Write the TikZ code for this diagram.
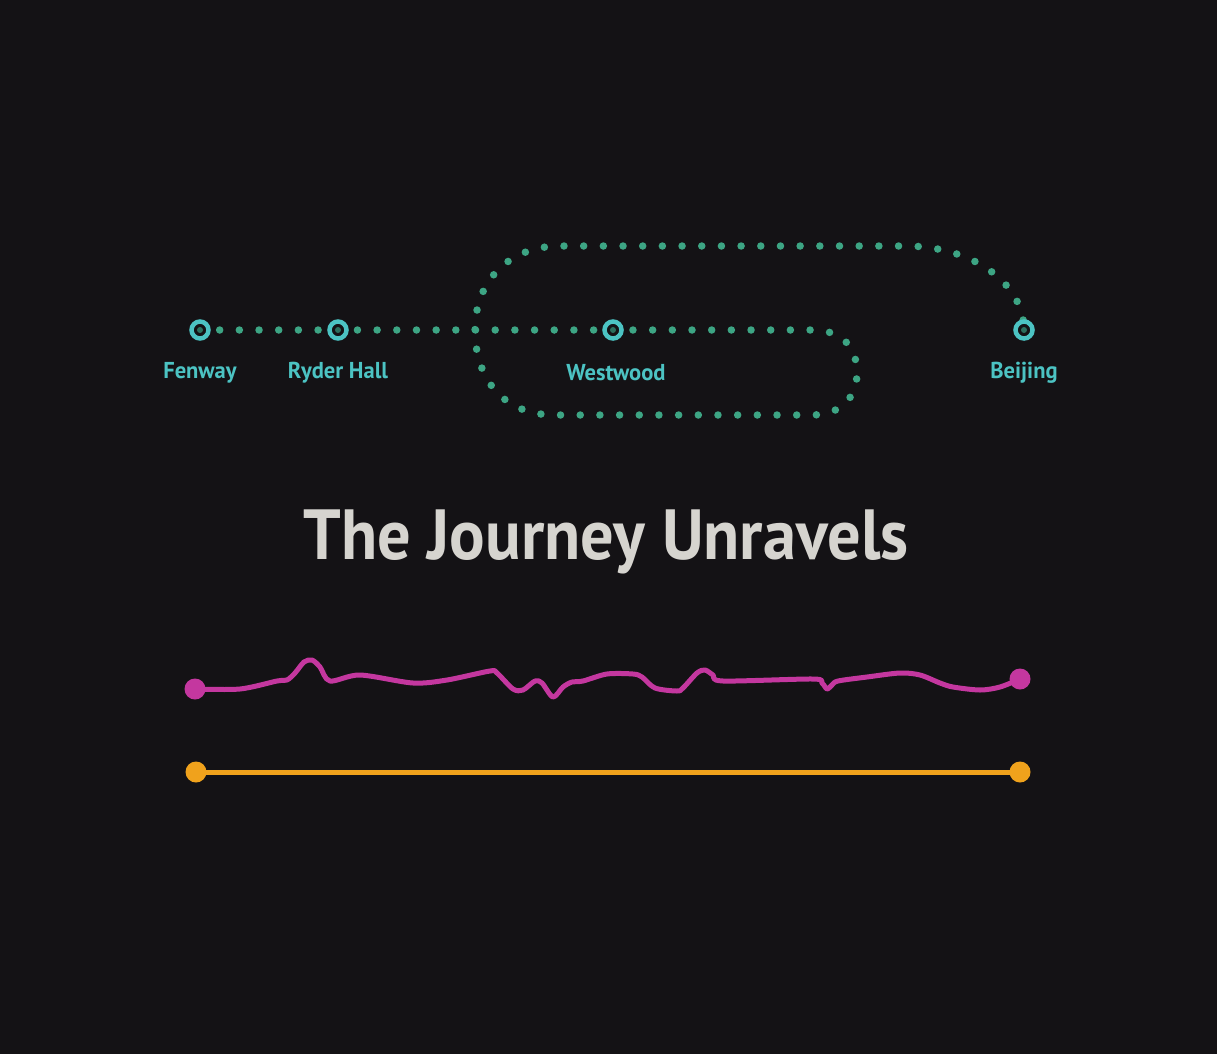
\documentclass[tikz,border=0pt]{standalone}
\usepackage{fontspec}
\setmainfont{PT Sans}
\definecolor{bg}{HTML}{141215}
\definecolor{dotgreen}{HTML}{3DA584}
\definecolor{teal}{HTML}{4CC3C3}
\definecolor{inner}{HTML}{2B6F5E}
\definecolor{titlegrey}{HTML}{D6D4CF}
\definecolor{mag}{HTML}{C4379F}
\definecolor{orng}{HTML}{F0A21C}
\tikzset{
  dotted route/.style={draw=dotgreen, line width=7.5pt, line cap=round, dash pattern=on 0pt off 19.68pt},
  station/.style={circle, draw=teal, line width=4.5pt, fill=bg, minimum size=17pt, inner sep=0pt},
  stationlabel/.style={text=teal, font=\bfseries\fontsize{23}{26}\selectfont, anchor=center},
  endpt/.style={circle, minimum size=21pt, inner sep=0pt},
  journey/.style={line width=5pt, line cap=round, line join=round},
}
\begin{document}
\begin{tikzpicture}[x=1pt,y=-1pt]
\fill[bg] (0,0) rectangle (1217,1054);
\useasboundingbox (0,0) rectangle (1217,1054);
\coordinate (fen) at (200,330);
\coordinate (ryd) at (338,330);
\coordinate (wes) at (613,330);
\coordinate (bei) at (1024,330);
% dotted route
\path[dotted route] (fen) -- (812,330) .. controls (845,330) and (857,350) .. (857,373)
  .. controls (857,398) and (840,415) .. (812,415) -- (555,415)
  .. controls (500,415) and (475,375) .. (475,330)
  .. controls (475,280) and (510,246) .. (560,246) -- (905,246)
  .. controls (975,246) and (1024,285) .. (bei);
% stations
\foreach \s in {fen,ryd,wes,bei}{
  \node[station] (n\s) at (\s) {};
  \fill[inner] (\s) circle (3pt);
}
\node[stationlabel] (lfen) at (200,373) {\scalebox{0.98}[1]{Fenway}};
\node[stationlabel] (lryd) at (338,373) {\scalebox{0.98}[1]{Ryder Hall}};
\node[stationlabel] (lwes) at (616,373) {\scalebox{0.98}[1]{Westwood}};
\node[stationlabel] (lbei) at (1024,373) {\scalebox{0.98}[1]{Beijing}};
% title
\node[text=titlegrey, font=\bfseries\fontsize{71}{80}\selectfont] (title) at (606,542) {\scalebox{0.935}[1]{The Journey Unravels}};
% magenta wiggly line
\node[endpt, fill=mag] (ms) at (195,689) {};
\node[endpt, fill=mag] (me) at (1020,679) {};
\draw[journey, mag] plot[smooth, tension=0.5] coordinates {
(195,689) (240,689) (277,681) (287,680) (295,673) (304,662) (312,660) (320,667) (330,681)
(360,675) (413,683) (447,680) (490,671) (497,673) (513,689) (523,690) (535,681) (542,683)
(553,697) (563,687) (572,682) (583,681) (607,674) (633,674) (642,677) (655,688) (677,691)
(683,688) (697,673) (705,670) (713,675) (723,681) (813,679) (822,683) (827,689) (832,685)
(838,681) (867,677) (900,673) (920,675) (940,683) (953,687) (980,690) (1000,687) (1020,679)};
% orange straight line
\node[endpt, fill=orng] (os) at (196,772) {};
\node[endpt, fill=orng] (oe) at (1020,772) {};
\draw[journey, orng] (os.center) -- (oe.center);
\end{tikzpicture}
\end{document}
